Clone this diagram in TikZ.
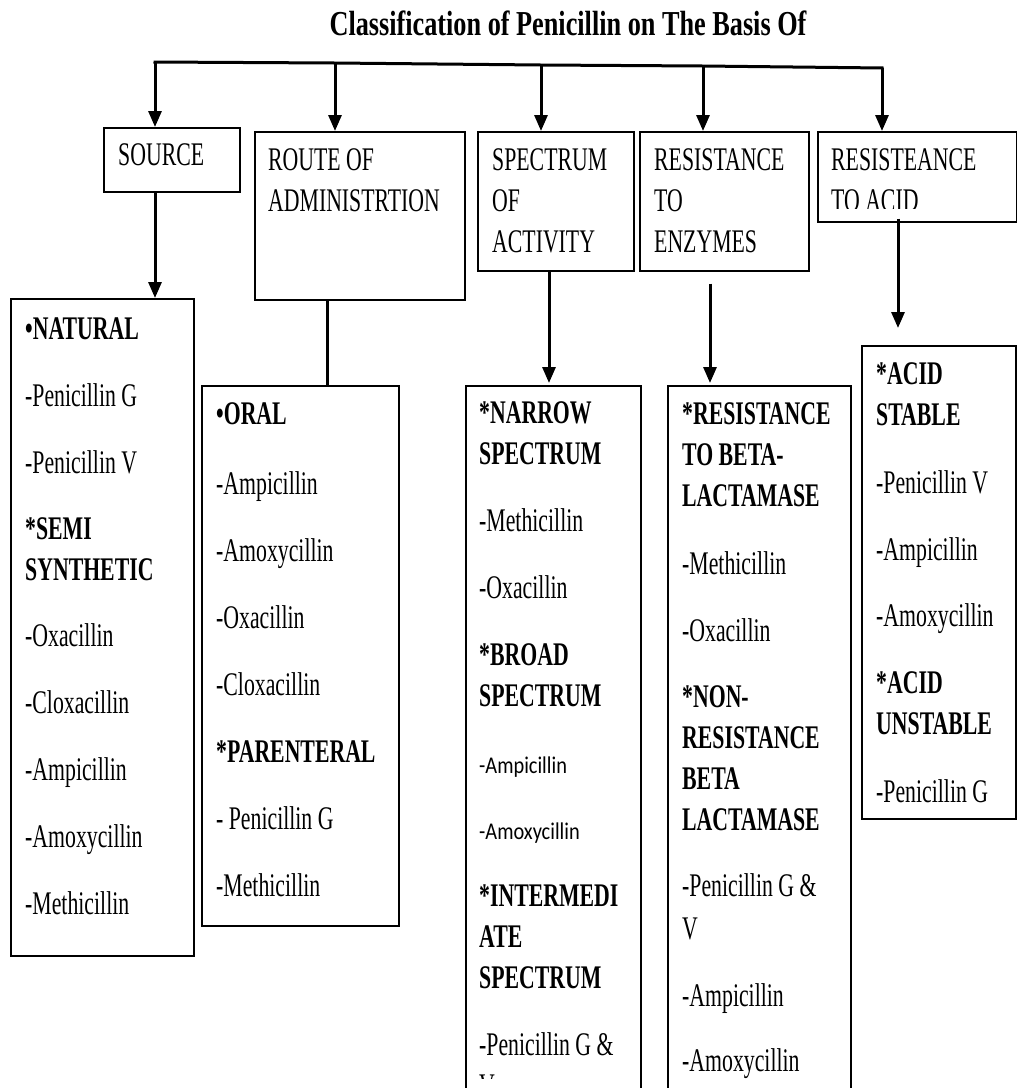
\documentclass[tikz,border=0pt]{standalone}
\usepackage{fontspec}
\setmainfont[FakeStretch=0.66]{Liberation Serif}
\newfontfamily\titlefont[FakeStretch=0.75]{Liberation Serif}
\newfontfamily\sansfnt[FakeStretch=0.85]{Carlito}
\usetikzlibrary{arrows.meta}
\begin{document}
\begin{tikzpicture}[x=1pt,y=-1pt,
  box/.style={draw, line width=1.6pt, inner sep=0pt, anchor=north west},
  txt/.style={inner sep=0pt, anchor=north west, align=left, font=\fontsize{33}{41}\selectfont},
  conn/.style={line width=3pt},
  arr/.style={conn, -{Triangle[length=16pt,width=13pt]}}
]
\clip (0,0) rectangle (1017,1088);
\fill[white] (0,0) rectangle (1017,1088);

% title
\node[anchor=base, inner sep=0pt, font=\titlefont\fontsize{35}{40}\selectfont\bfseries] (title) at (568,35) {Classification of Penicillin on The Basis Of};

% second level boxes
\node[box, minimum width=136pt, minimum height=64pt] (source) at (103,127) {};
\node[box, minimum width=210pt, minimum height=168pt] (route) at (254,131) {};
\node[box, minimum width=156pt, minimum height=139pt] (spectrum) at (477,131) {};
\node[box, minimum width=169pt, minimum height=139pt] (enzymes) at (639,131) {};
\node[box, minimum width=199pt, minimum height=90pt] (acid) at (817,131) {};

\node[txt, anchor=base west] (sourceT) at (118,165) {SOURCE};
\node[txt] (routeT) at (268,148) {ROUTE OF\\ADMINISTRTION};
\node[txt] (spectrumT) at (492,148) {SPECTRUM\\OF\\ACTIVITY};
\node[txt] (enzymesT) at (654,148) {RESISTANCE\\TO\\ENZYMES};
\begin{scope}
  \clip (817,131) rectangle (1015,208);
  \node[txt] (acidT) at (831,148) {RESISTEANCE\\TO ACID};
\end{scope}

% top bus
\coordinate (b1) at (155,62);
\coordinate (b2) at (335,63);
\coordinate (b3) at (541,65);
\coordinate (b4) at (703,66);
\coordinate (b5) at (882,68);
\draw[conn] ([xshift=-1.5pt]b1) -- (b2) -- (b3) -- (b4) -- ([xshift=1.5pt]b5);
\draw[arr] (b1) -- (b1 |- source.north);
\draw[arr] (b2) -- (b2 |- route.north);
\draw[arr] (b3) -- (b3 |- spectrum.north);
\draw[arr] (b4) -- (b4 |- enzymes.north);
\draw[arr] (b5) -- (b5 |- acid.north);

% third level boxes
\node[box, minimum width=183pt, minimum height=657pt] (natural) at (10,298) {};
\node[box, minimum width=197pt, minimum height=540pt] (oral) at (201,385) {};
\node[box, minimum width=175pt, minimum height=720pt] (narrow) at (465,385) {};
\node[box, minimum width=183pt, minimum height=720pt] (resist) at (667,385) {};
\node[box, minimum width=154pt, minimum height=473pt] (stable) at (861,345) {};

% connectors to third level
\draw[arr] ([xshift=52pt]source.south west) -- ([xshift=145pt]natural.north west);
\draw[conn] ([xshift=73pt]route.south west) -- ([xshift=126pt]oral.north west);
\draw[arr] ([xshift=72pt,yshift=1pt]spectrum.south west) -- ([xshift=84pt,yshift=2pt]narrow.north west);
\draw[arr] ([xshift=71pt,yshift=-12pt]enzymes.south west) -- ([xshift=43pt,yshift=2pt]resist.north west);
\draw[arr] ([xshift=81pt,yshift=4pt]acid.south west) -- ([xshift=37pt,yshift=17pt]stable.north west);

% third level texts
\node[txt] (naturalT) at (25,317) {\textbf{•NATURAL}\\[26pt]
-Penicillin G\\[26pt]
-Penicillin V\\[25pt]
\textbf{*SEMI}\\
\textbf{SYNTHETIC}\\[26pt]
-Oxacillin\\[26pt]
-Cloxacillin\\[26pt]
-Ampicillin\\[26pt]
-Amoxycillin\\[26pt]
-Methicillin};

\node[txt] (oralT) at (216,402) {\textbf{•ORAL}\\[29pt]
-Ampicillin\\[26pt]
-Amoxycillin\\[26pt]
-Oxacillin\\[26pt]
-Cloxacillin\\[26pt]
\textbf{*PARENTERAL}\\[26pt]
- Penicillin G\\[26pt]
-Methicillin};

\begin{scope}
\clip (465,385) rectangle (640,1078);
\node[txt] (narrowT) at (479,401) {\textbf{*NARROW}\\
\textbf{SPECTRUM}\\[26pt]
-Methicillin\\[26pt]
-Oxacillin\\[26pt]
\textbf{*BROAD}\\
\textbf{SPECTRUM}\\[26pt]
{\sansfnt\fontsize{24}{41}\selectfont -Ampicillin}\\[25pt]
{\sansfnt\fontsize{24}{41}\selectfont -Amoxycillin}\\[26pt]
\textbf{*INTERMEDI}\\
\textbf{ATE}\\
\textbf{SPECTRUM}\\[26pt]
-Penicillin G \&\\
V};
\end{scope}

\node[txt] (resistT) at (682,402) {\textbf{*RESISTANCE}\\
\textbf{TO BETA-}\\
\textbf{LACTAMASE}\\[27pt]
-Methicillin\\[26pt]
-Oxacillin\\[25pt]
\textbf{*NON-}\\
\textbf{RESISTANCE}\\
\textbf{BETA}\\
\textbf{LACTAMASE}\\[25pt]
-Penicillin G \&\\[2pt]
V\\[26pt]
-Ampicillin\\[24pt]
-Amoxycillin};

\node[txt] (stableT) at (876,362) {\textbf{*ACID}\\
\textbf{STABLE}\\[27pt]
-Penicillin V\\[26pt]
-Ampicillin\\[25pt]
-Amoxycillin\\[26pt]
\textbf{*ACID}\\
\textbf{UNSTABLE}\\[27pt]
-Penicillin G};
\end{tikzpicture}
\end{document}
